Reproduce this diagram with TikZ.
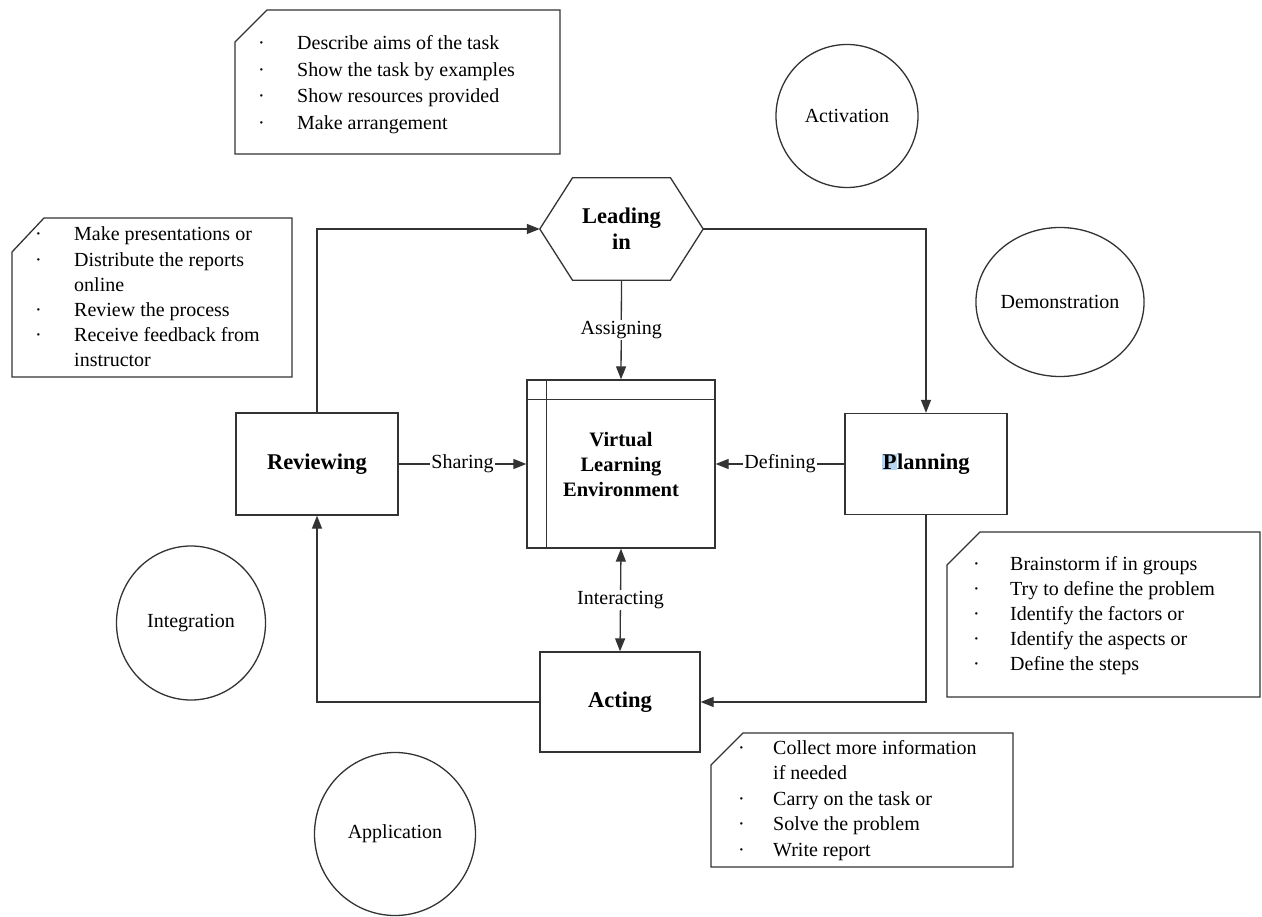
\documentclass[tikz,border=0pt]{standalone}
\usepackage{fontspec}
\setmainfont{Liberation Serif}
\usetikzlibrary{arrows.meta,shapes.geometric}
\definecolor{ln}{gray}{0.2}
\definecolor{hl}{RGB}{180,212,240}
\begin{document}
\begin{tikzpicture}[x=1pt,y=-1pt,
  every node/.style={font=\fontsize{20}{25.5}\selectfont},
  proc/.style={draw=ln, line width=1.3pt, rectangle, inner sep=0pt,
    font=\fontsize{22.5}{26}\selectfont\bfseries, align=center},
  ell/.style={draw=ln, line width=1.3pt, ellipse, inner sep=0pt},
  conn/.style={draw=ln, line width=1.3pt, -{Triangle[length=13pt,width=10pt]}},
  lbl/.style={fill=white, inner sep=1pt},
  note/.style={draw=ln, line width=1.3pt},
  notetext/.style={anchor=base west, inner sep=0pt}
]
\useasboundingbox (0,0) rectangle (1262,917);
\fill[white] (0,0) rectangle (1262,917);

% ---- notes ----
\draw[note] (235,42) -- (267,10) -- (560,10) -- (560,154) -- (235,154) -- cycle;
\node[notetext] (n1) at (258,50) {\fontsize{20}{26.5}\selectfont\begin{tabular}[t]{@{}p{39pt}@{}l@{}}
· & Describe aims of the task\\
· & Show the task by examples\\
· & Show resources provided\\
· & Make arrangement
\end{tabular}};

\draw[note] (12,252) -- (44,218) -- (292,218) -- (292,377) -- (12,377) -- cycle;
\node[notetext] (n2) at (35,241) {\fontsize{20}{25.2}\selectfont\begin{tabular}[t]{@{}p{39pt}@{}l@{}}
· & Make presentations or\\
· & Distribute the reports\\
  & online\\
· & Review the process\\
· & Receive feedback from\\
  & instructor
\end{tabular}};

\draw[note] (947,565) -- (980,532) -- (1260,532) -- (1260,697) -- (947,697) -- cycle;
\node[notetext] (n3) at (973,570) {\fontsize{20}{25.2}\selectfont\begin{tabular}[t]{@{}p{37pt}@{}l@{}}
· & Brainstorm if in groups\\
· & Try to define the problem\\
· & Identify the factors or\\
· & Identify the aspects or\\
· & Define the steps
\end{tabular}};

\draw[note] (711,765) -- (743,733) -- (1013,733) -- (1013,867) -- (711,867) -- cycle;
\node[notetext] (n4) at (738,754) {\fontsize{20}{25.6}\selectfont\begin{tabular}[t]{@{}p{35pt}@{}l@{}}
· & Collect more information\\
  & if needed\\
· & Carry on the task or\\
· & Solve the problem\\
· & Write report
\end{tabular}};

% ---- circles ----
\node[ell, minimum width=142pt, minimum height=143pt] (act1) at (847,116) {Activation};
\node[ell, minimum width=141pt, minimum height=149pt] (dem) at (1060,302) {Demonstration};
\node[ell, minimum width=149pt, minimum height=154pt] (int) at (191,623) {Integration};
\node[ell, minimum width=161pt, minimum height=163pt] (app) at (395,834) {Application};

% ---- main nodes ----
\node[inner sep=0pt, minimum width=163pt, minimum height=102pt, align=center,
  font=\fontsize{22.5}{26}\selectfont\bfseries] (lead) at (621.5,229) {Leading\\in};
\draw[ln, line width=1.3pt] (lead.west) -- ([xshift=-49pt]lead.north) -- ([xshift=49pt]lead.north)
  -- (lead.east) -- ([xshift=49pt]lead.south) -- ([xshift=-49pt]lead.south) -- cycle;

\node[proc, minimum width=188pt, minimum height=168pt, font=\fontsize{20.5}{25}\selectfont\bfseries]
  (vle) at (621,464) {Virtual\\Learning\\Environment};
\draw[ln, line width=1.3pt] ([xshift=20pt]vle.north west) -- ([xshift=20pt]vle.south west);
\draw[ln, line width=1.3pt] ([yshift=-20pt]vle.north west) -- ([yshift=-20pt]vle.north east);

\node[proc, minimum width=162pt, minimum height=102pt] (rev) at (317,464) {Reviewing};
\node[proc, minimum width=162pt, minimum height=101pt] (plan) at (926,464)
  {{\setlength\fboxsep{0.5pt}\colorbox{hl}{P}}lanning};
\node[proc, minimum width=160pt, minimum height=100pt] (acting) at (620,702) {Acting};

% ---- connectors ----
\draw[conn] (rev.north) |- (lead.west);
\draw[conn] (lead.east) -| (plan.north);
\draw[conn] (plan.south) |- (acting.east);
\draw[conn] (acting.west) -| (rev.south);
\draw[conn] (lead.south) -- node[lbl] (lA) {Assigning} (vle.north);
\draw[conn] (rev.east) -- node[lbl] (lS) {Sharing} (vle.west);
\draw[conn] (plan.west) -- node[lbl] (lD) {Defining} (vle.east);
\draw[conn, {Triangle[length=13pt,width=10pt]}-{Triangle[length=13pt,width=10pt]}]
  (vle.south) -- node[lbl] (lI) {Interacting} (acting.north);
\end{tikzpicture}
\end{document}
